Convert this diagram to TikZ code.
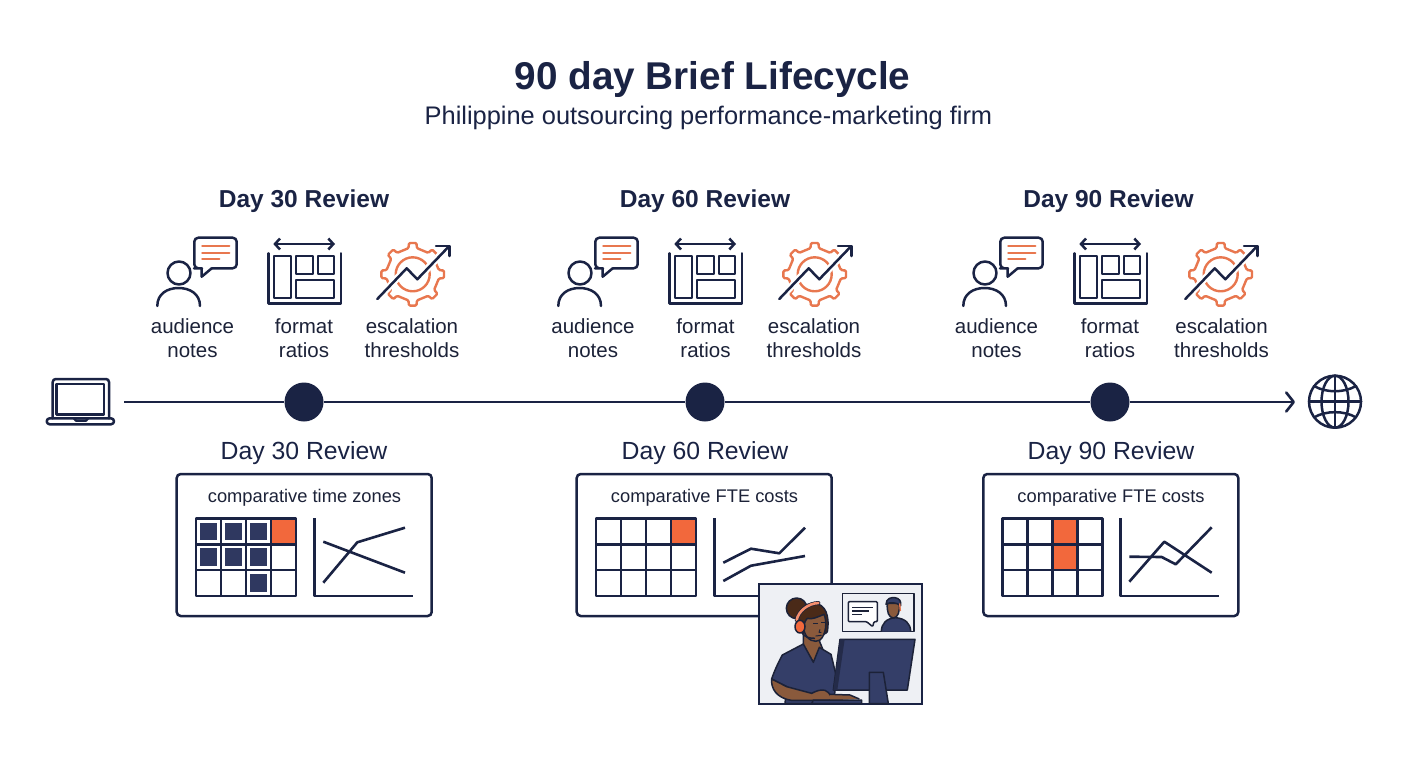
\documentclass[tikz,border=0pt]{standalone}
\usepackage{fontspec}
\setmainfont{Liberation Sans}
\usetikzlibrary{arrows.meta}
\definecolor{navy}{HTML}{1A2344}
\definecolor{cell}{HTML}{2F3860}
\definecolor{hot}{HTML}{F2683C}
\definecolor{iconor}{HTML}{E8774F}
\definecolor{shirt}{HTML}{343E68}
\definecolor{skin}{HTML}{8A5A3C}
\definecolor{hair}{HTML}{4A2A18}
\definecolor{photobg}{HTML}{EEF0F4}
\definecolor{ink}{HTML}{1C2238}
\tikzset{
  ln/.style={draw=navy,line width=2.6pt,line join=round},
  icon/.style={draw=navy,line width=2.5pt,line join=round,line cap=round},
  oicon/.style={draw=iconor,line width=2.4pt,line join=round,line cap=round},
  cardbox/.style={draw=navy,line width=2.5pt,rounded corners=4pt,fill=white},
  ptxt/.style={draw=ink,line width=1.5pt,line join=round},
  hd/.style={font=\bfseries\fontsize{24.5}{28}\selectfont,text=navy,inner sep=0pt},
  sub/.style={font=\fontsize{25.4}{28}\selectfont,text=navy,inner sep=0pt},
  sub2/.style={font=\fontsize{24.8}{28}\selectfont,text=navy,inner sep=0pt},
  lbl/.style={font=\fontsize{20.5}{24}\selectfont,text=ink,align=center,inner sep=0pt},
  ctitle/.style={font=\fontsize{18.3}{20}\selectfont,text=ink,inner sep=0pt},
  dot/.style={circle,fill=navy,minimum size=39pt,inner sep=0pt},
}
% --- icons
\newcommand{\personicon}[1]{\begin{scope}[xshift=#1pt]
  \draw[icon] (179,273) circle (11.5);
  \draw[icon] (157.3,306) .. controls (157.3,294) and (167,288) .. (178.6,288) .. controls (190,288) and (200,294) .. (200,306);
  \draw[icon,rounded corners=4pt] (201.7,268.3) -- (198,268.3) -- (194.3,268.3) -- (194.3,237.7) -- (236.7,237.7) -- (236.7,268.3) -- (211.7,268.3);
  \draw[icon] (201.7,268.3) -- (201.7,276.7) -- (211.7,268.3);
  \draw[oicon] (202.3,246) -- (229.3,246) (202.3,252.7) -- (229.3,252.7) (202.3,259) -- (219.3,259);
\end{scope}}
\newcommand{\formaticon}[1]{\begin{scope}[xshift=#1pt]
  \draw[icon,{Straight Barb[length=5pt,width=11pt]}-{Straight Barb[length=5pt,width=11pt]}] (273.3,244) -- (335,244);
  \draw[icon] (268.3,253.3) -- (268.3,303.3) -- (341,303.3) -- (341,253.3);
  \draw[icon,line width=2.2pt] (274.3,255.7) rectangle (290.7,298.3);
  \draw[icon,line width=2.2pt] (295.7,255.7) rectangle (312.7,274.3);
  \draw[icon,line width=2.2pt] (317.7,255.7) rectangle (334.3,274.3);
  \draw[icon,line width=2.2pt] (295.7,280) rectangle (334.3,298.3);
\end{scope}}
\newcommand{\gearicon}[1]{\begin{scope}[xshift=#1pt]
  \begin{scope}[shift={(412.7,274.3)}]
    \draw[oicon,rounded corners=1.2pt] (-9:26.5)
      \foreach \a in {0,45,...,315}{ -- (\a-9:26.5) -- (\a-7:31.5) -- (\a+7:31.5) -- (\a+9:26.5) } -- cycle;
    \draw[oicon] (0,0) circle (17);
  \end{scope}
  \draw[white,line width=7pt,line cap=round,line join=round] (377.3,299) -- (406.7,268.3) -- (417.3,279.3) -- (445,250);
  \draw[icon] (377.3,299) -- (406.7,268.3) -- (417.3,279.3) -- (449.3,246);
  \draw[icon] (436,246) -- (449.3,246) -- (449.3,256);
\end{scope}}
\newcommand{\gridtab}[2]{\begin{scope}[shift={(#1,#2)}]
  \foreach \i in {1,2,3}{\draw[ln] (\i*25,0) -- (\i*25,77.7);}
  \foreach \j in {1,2}{\draw[ln] (0,\j*25.9) -- (100,\j*25.9);}
  \draw[ln] (0,0) rectangle (100,77.7);
\end{scope}}
\newcommand{\gridcell}[4]{% x0 y0 col row
  \fill[hot] (#1+#3*25,#2+#4*25.9) rectangle ++(25,25.9);}
\newcommand{\darkcell}[4]{% x0 y0 col row
  \fill[cell] (#1+#3*25+4,#2+#4*25.9+4.2) rectangle ++(17.4,17.6);}
\begin{document}
\begin{tikzpicture}[x=1pt,y=-1pt]
\useasboundingbox (0,0) rectangle (1408,768);
\fill[white] (0,0) rectangle (1408,768);
% title
\node[font=\bfseries\fontsize{38.7}{44}\selectfont,text=navy,inner sep=0pt] (title) at (712.5,79) {90 day Brief Lifecycle};
\node[sub] (subtitle) at (708.5,118) {Philippine outsourcing performance-marketing firm};
% review headings
\node[hd] (h30) at (304,201) {Day 30 Review};
\node[hd] (h60) at (705,201) {Day 60 Review};
\node[hd] (h90) at (1108.5,201) {Day 90 Review};
% icons
\personicon{0}\formaticon{0}\gearicon{0}
\personicon{401}\formaticon{401}\gearicon{402}
\personicon{806}\formaticon{806}\gearicon{808}
% icon labels
\node[lbl] (a1) at (192.5,338) {audience\\notes};
\node[lbl] (f1) at (304,338) {format\\ratios};
\node[lbl] (e1) at (412,338) {escalation\\thresholds};
\node[lbl] (a2) at (593,338) {audience\\notes};
\node[lbl] (f2) at (705.5,338) {format\\ratios};
\node[lbl] (e2) at (814,338) {escalation\\thresholds};
\node[lbl] (a3) at (996.5,338) {audience\\notes};
\node[lbl] (f3) at (1110,338) {format\\ratios};
\node[lbl] (e3) at (1221.5,338) {escalation\\thresholds};
% laptop
\draw[icon,rounded corners=3pt] (52.7,418.3) -- (52.7,379) -- (109,379) -- (109,418.3);
\draw[icon] (56.7,384) rectangle (104,414.3);
\draw[icon,rounded corners=3pt] (46.7,418.3) -- (46.7,424.3) -- (114,424.3) -- (114,418.3) -- cycle;
\draw[icon] (74,418.3) -- (76,420.6) -- (86,420.6) -- (88,418.3);
% globe
\draw[icon] (1335,401.7) circle (26);
\draw[icon] (1335,401.7) ellipse (13.5 and 26);
\draw[icon] (1335,375.7) -- (1335,427.7);
\draw[icon] (1309,401.7) -- (1361,401.7);
\draw[icon] (1314,386) .. controls (1326,393) and (1344,393) .. (1356,386);
\draw[icon] (1314,417.4) .. controls (1326,410.4) and (1344,410.4) .. (1356,417.4);
% timeline
\coordinate (lapend) at (124,402);
\coordinate (globeend) at (1295,402);
\node[dot] (d1) at (304,402) {};
\node[dot] (d2) at (705,402) {};
\node[dot] (d3) at (1110,402) {};
\draw[ln] (lapend) -- (d1);
\draw[ln] (d1) -- (d2);
\draw[ln] (d2) -- (d3);
\draw[ln,-{Straight Barb[length=7.5pt,width=19pt,round]}] (d3) -- (globeend);
% lower headings
\node[sub2] (l30) at (304,453) {Day 30 Review};
\node[sub2] (l60) at (705,453) {Day 60 Review};
\node[sub2] (l90) at (1111,453) {Day 90 Review};
% card 1
\node[cardbox,minimum width=255pt,minimum height=142pt,inner sep=0pt] (c1) at (304.2,545) {};
\node[ctitle] (t1) at (304.5,498) {comparative time zones};
\gridcell{196}{518.3}{3}{0}
\foreach \c/\r in {0/0,1/0,2/0,0/1,1/1,2/1,2/2}{\darkcell{196}{518.3}{\c}{\r}}
\gridtab{196}{518.3}
\draw[ln] (314.3,518.3) -- (314.3,596) -- (413.3,596);
\draw[ln] (323.3,582.7) -- (357.3,542.3) -- (405,527.7);
\draw[ln] (323.3,541.7) -- (405,572.7);
% card 2
\node[cardbox,minimum width=255pt,minimum height=142pt,inner sep=0pt] (c2) at (704.2,545) {};
\node[ctitle] (t2) at (704.5,498) {comparative FTE costs};
\gridcell{596}{518.3}{3}{0}
\gridtab{596}{518.3}
\draw[ln] (714.3,518.3) -- (714.3,596) -- (813.3,596);
\draw[ln] (723.3,562.7) -- (751,548.7) -- (779.3,553.3) -- (805,527.7);
\draw[ln] (723.3,581) -- (751,565.7) -- (805,556);
% card 3
\node[cardbox,minimum width=255pt,minimum height=142pt,inner sep=0pt] (c3) at (1110.8,545) {};
\node[ctitle] (t3) at (1111,498) {comparative FTE costs};
\gridcell{1002.7}{518.3}{2}{0}
\gridcell{1002.7}{518.3}{2}{1}
\gridtab{1002.7}{518.3}
\draw[ln] (1120.3,518.3) -- (1120.3,596) -- (1219.3,596);
\draw[ln] (1129.3,581.7) -- (1164.3,541.7) -- (1211.7,572.7);
\draw[ln] (1129.3,556.7) -- (1161.7,557) -- (1175.7,564.3) -- (1211.7,527.3);
% photo
\begin{scope}[xshift=750pt,yshift=-575pt,x=0.33333pt,y=-0.33333pt]
  \draw[fill=photobg,draw=navy,line width=2.2pt] (27,28) rectangle (515,388);
  % inset
  \draw[fill=photobg,ptxt] (277,55) rectangle (492,170);
  \draw[fill=white,ptxt,rounded corners=1pt] (295,80) -- (382,80) -- (382,140) -- (372,140) -- (368,155) -- (350,140) -- (295,140) -- cycle;
  \draw[ptxt,line width=1.1pt] (307,98) -- (370,98) (307,108) -- (358,108) (307,119) -- (335,119);
  \fill[shirt] (394,170) .. controls (394,145) and (410,130) .. (436,128) .. controls (465,130) and (482,145) .. (482,170) -- cycle;
  \draw[ptxt] (394,170) .. controls (394,145) and (410,130) .. (436,128) .. controls (465,130) and (482,145) .. (482,170);
  \draw[ptxt,fill=skin] (412,85) .. controls (410,110) and (416,128) .. (430,129) .. controls (444,128) and (450,110) .. (448,85) -- cycle;
  \draw[ptxt,fill=shirt] (408,88) .. controls (408,70) and (425,66) .. (435,68) .. controls (448,70) and (454,78) .. (452,92) .. controls (440,82) and (420,80) .. (408,88) -- cycle;
  \draw[iconor,line width=1.4pt] (449,85) -- (451,108);
  % woman: bun and hair
  \draw[ptxt,fill=hair] (140,100) circle (31);
  \draw[ptxt,fill=hair] (148,155) .. controls (135,110) and (165,82) .. (195,85) .. controls (225,88) and (240,120) .. (232,170) .. controls (225,185) and (160,190) .. (148,155) -- cycle;
  % neck
  \draw[ptxt,fill=skin] (160,165) -- (160,212) -- (190,262) -- (218,222) -- (205,190) -- cycle;
  % shirt
  \draw[ptxt,fill=shirt] (160,207) -- (97,240) .. controls (85,262) and (72,290) .. (65,312) -- (110,335) -- (105,386) -- (252,386) -- (258,300) -- (243,238) -- (208,217) -- (190,262) -- cycle;
  % face
  \draw[ptxt,fill=skin] (172,130) .. controls (185,135) and (205,125) .. (222,118) .. controls (232,140) and (228,180) .. (210,195) .. controls (195,205) and (170,195) .. (163,170) .. controls (158,150) and (165,138) .. (172,130) -- cycle;
  \draw[ptxt,line width=1.2pt] (190,145) -- (205,145) (213,143) -- (224,143);
  \draw[ptxt,line width=1pt] (210,163) -- (207,172) -- (214,172);
  \draw[ptxt,line width=1pt] (197,183) -- (215,181);
  % headset
  \draw[ink,line width=4pt,line cap=round] (140,135) .. controls (145,108) and (175,85) .. (205,84);
  \draw[hot!75!white,line width=2.6pt,line cap=round] (140,135) .. controls (145,108) and (175,85) .. (205,84);
  \draw[ptxt,fill=hot] (150,155) ellipse (15 and 19);
  \draw[ink,line width=1.5pt] (155,172) .. controls (162,185) and (175,190) .. (195,190);
  % arm
  \draw[ptxt,fill=skin] (65,312) .. controls (62,340) and (80,370) .. (125,376) -- (240,376) .. controls (250,372) and (240,352) .. (225,346) .. controls (210,342) and (195,350) .. (185,355) -- (110,335) -- cycle;
  \fill[skin] (240,358) -- (300,360) -- (328,372) -- (240,376) -- cycle;
  \draw[ptxt] (240,358) -- (300,360) -- (328,372);
  \draw[ptxt,fill=shirt] (185,386) -- (190,375) -- (335,375) -- (335,386) -- cycle;
  % monitor
  \draw[ptxt,fill=shirt] (270,193) -- (495,193) -- (472,345) -- (250,345) -- cycle;
  \fill[shirt!70!black] (270,193) -- (284,193) -- (262,345) -- (250,345) -- cycle;
  \draw[ptxt,fill=shirt] (358,292) -- (400,292) -- (415,386) -- (358,386) -- cycle;
\end{scope}
\end{tikzpicture}
\end{document}
